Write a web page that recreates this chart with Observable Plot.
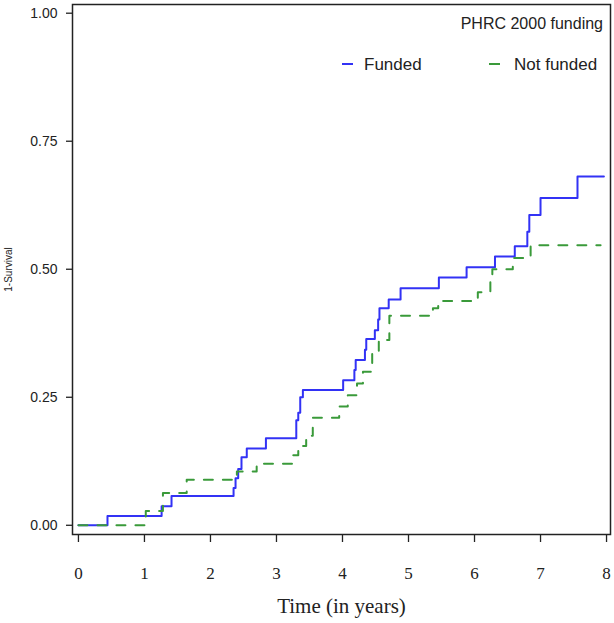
<!DOCTYPE html>
<html><head><meta charset="utf-8">
<script src="https://cdn.jsdelivr.net/npm/d3@7"></script>
<script src="https://cdn.jsdelivr.net/npm/@observablehq/plot@0.6"></script>
<style>
body{margin:0;background:#fff;}
#chart{width:614px;height:623px;}
</style></head><body><div id="chart"></div>
<script>
// Funded (blue, solid) step curve: event times and cumulative incidence
const fundedTime = [0, 0.44, 1.26, 1.41, 2.35, 2.38, 2.42, 2.47, 2.55, 2.84, 3.30, 3.33, 3.36, 3.40, 4.01, 4.18, 4.20, 4.34, 4.36, 4.49, 4.54, 4.56, 4.70, 4.88, 5.46, 5.88, 6.31, 6.61, 6.80, 6.83, 7.00, 7.56, 7.96];
const fundedRisk = [0, 0.018, 0.037, 0.057, 0.073, 0.092, 0.11, 0.133, 0.15, 0.17, 0.205, 0.22, 0.25, 0.264, 0.283, 0.303, 0.323, 0.343, 0.364, 0.381, 0.402, 0.424, 0.441, 0.463, 0.484, 0.504, 0.525, 0.545, 0.573, 0.606, 0.639, 0.681, 0.681];
// Not funded (green, dashed)
const notFundedTime = [0, 1.02, 1.28, 1.64, 2.40, 2.70, 3.25, 3.33, 3.45, 3.55, 3.95, 4.08, 4.22, 4.31, 4.45, 4.55, 4.71, 5.37, 5.45, 6.05, 6.24, 6.27, 6.58, 6.85, 7.91];
const notFundedRisk = [0, 0.028, 0.063, 0.089, 0.105, 0.12, 0.137, 0.155, 0.175, 0.21, 0.232, 0.254, 0.277, 0.30, 0.336, 0.362, 0.409, 0.424, 0.438, 0.455, 0.478, 0.50, 0.522, 0.547, 0.547];

const xTicks = [0, 1, 2, 3, 4, 5, 6, 7, 8];
const yTicks = [0, 0.25, 0.5, 0.75, 1];
const seriesNames = ["Funded", "Not funded"];
const seriesColors = ["#3232f5", "#3a9a3a"];
const legendTitle = "PHRC 2000 funding";
const xLabel = "Time (in years)";
const yLabel = "1-Survival";

const funded = fundedTime.map((t, i) => ({t, v: fundedRisk[i]}));
const notFunded = notFundedTime.map((t, i) => ({t, v: notFundedRisk[i]}));

const sans = "Liberation Sans, Arial, sans-serif";
const serif = "Liberation Serif, Times New Roman, serif";

function legend(index, scales, values, dimensions) {
  const r = dimensions.width - dimensions.marginRight;
  const top = dimensions.marginTop;
  const g = d3.create("svg:g").attr("font-family", sans).attr("fill", "#222");
  g.append("text").attr("x", r - 7).attr("y", top + 25).attr("text-anchor", "end")
    .attr("font-size", 16).text(legendTitle);
  const items = [
    {name: seriesNames[0], color: seriesColors[0], sx: r - 268, tx: r - 246},
    {name: seriesNames[1], color: seriesColors[1], sx: r - 121, tx: r - 96}
  ];
  for (const it of items) {
    g.append("line").attr("x1", it.sx).attr("x2", it.sx + 11)
      .attr("y1", top + 60).attr("y2", top + 60)
      .attr("stroke", it.color).attr("stroke-width", 2);
    g.append("text").attr("x", it.tx).attr("y", top + 66).attr("text-anchor", "start")
      .attr("font-size", 17).text(it.name);
  }
  return g.node();
}

const chart = Plot.plot({
  width: 614, height: 623,
  marginLeft: 72, marginRight: 4, marginTop: 4, marginBottom: 89,
  style: {fontFamily: sans, background: "#fff", color: "#222"},
  x: {domain: [-0.09, 8.06]},
  y: {domain: [-0.018, 1.017]},
  marks: [
    Plot.axisY(yTicks, {tickSize: 6, tickPadding: 9, tickFormat: d3.format(".2f"), fontSize: 14, label: null, strokeWidth: 1.3}),
    Plot.axisX(xTicks, {tickSize: 8, tickPadding: 24, fontSize: 17, fontFamily: serif, label: null, strokeWidth: 1.3}),
    Plot.text([yLabel], {text: d => d, frameAnchor: "left", dx: -64, rotate: -90, textAnchor: "middle", fontSize: 10}),
    Plot.text([xLabel], {text: d => d, frameAnchor: "bottom", dy: 72, lineAnchor: "middle", fontSize: 21, fontFamily: serif}),
    Plot.line(funded, {x: "t", y: "v", curve: "step-after", stroke: seriesColors[0], strokeWidth: 2}),
    Plot.line(notFunded, {x: "t", y: "v", curve: "step-after", stroke: seriesColors[1], strokeWidth: 2, strokeDasharray: "9,10"}),
    Plot.frame({stroke: "#222", strokeWidth: 1.5}),
    legend
  ]
});
document.getElementById("chart").append(chart);
</script>
</body></html>
